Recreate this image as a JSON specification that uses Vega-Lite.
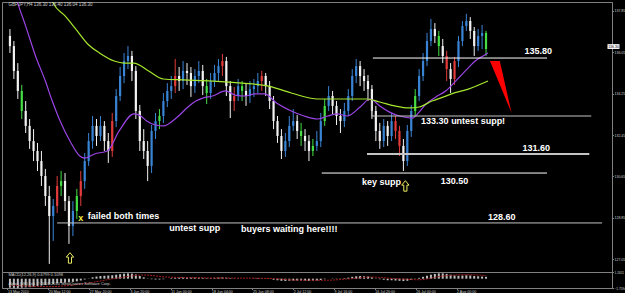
{
"$schema": "https://vega.github.io/schema/vega-lite/v6.json",
"background": "#000000",
"padding": {"left": 1, "top": 1, "right": 0, "bottom": 0},
"spacing": 0,
"bounds": "flush",
"datasets": {
"candles": [
{"i":0,"o":136.76,"h":137.06,"l":136.02,"c":136.32,"k":"dn","m":-1.7},
{"i":1,"o":136.32,"h":136.54,"l":134.89,"c":135.24,"k":"dn","m":-1.75},
{"i":2,"o":135.24,"h":135.58,"l":134.02,"c":134.37,"k":"dn","m":-1.75},
{"i":3,"o":134.37,"h":134.63,"l":133.15,"c":133.50,"k":"g","m":-1.7},
{"i":4,"o":133.50,"h":133.93,"l":132.54,"c":132.85,"k":"dn","m":-1.65},
{"i":5,"o":132.85,"h":133.15,"l":131.85,"c":132.19,"k":"dn","m":-1.6},
{"i":6,"o":132.19,"h":132.71,"l":131.32,"c":131.76,"k":"dn","m":-1.5},
{"i":7,"o":131.76,"h":132.11,"l":130.89,"c":131.32,"k":"dn","m":-1.4},
{"i":8,"o":131.32,"h":131.76,"l":130.24,"c":130.67,"k":"dn","m":-1.3},
{"i":9,"o":130.67,"h":130.98,"l":129.37,"c":129.80,"k":"dn","m":-1.2},
{"i":10,"o":129.80,"h":130.24,"l":126.85,"c":128.93,"k":"dn","m":-1.1},
{"i":11,"o":128.93,"h":129.67,"l":127.85,"c":129.37,"k":"up","m":-1.0},
{"i":12,"o":129.37,"h":130.67,"l":129.06,"c":130.24,"k":"r","m":-0.9},
{"i":13,"o":130.24,"h":130.89,"l":129.80,"c":130.45,"k":"g","m":-0.8},
{"i":14,"o":130.45,"h":130.80,"l":129.15,"c":129.58,"k":"dn","m":-0.75},
{"i":15,"o":129.58,"h":129.80,"l":127.72,"c":128.50,"k":"dn","m":-0.7},
{"i":16,"o":128.50,"h":129.58,"l":128.06,"c":129.15,"k":"up","m":-0.6},
{"i":17,"o":129.15,"h":130.11,"l":128.80,"c":129.80,"k":"g","m":-0.5},
{"i":18,"o":129.80,"h":130.89,"l":129.37,"c":130.45,"k":"r","m":-0.35},
{"i":19,"o":130.45,"h":131.67,"l":130.11,"c":131.32,"k":"up","m":-0.15},
{"i":20,"o":131.32,"h":132.54,"l":131.11,"c":132.19,"k":"up","m":0.05},
{"i":21,"o":132.19,"h":133.28,"l":131.85,"c":132.85,"k":"up","m":0.25},
{"i":22,"o":132.85,"h":133.15,"l":131.98,"c":132.41,"k":"dn","m":0.4},
{"i":23,"o":132.41,"h":133.28,"l":132.19,"c":132.85,"k":"up","m":0.5},
{"i":24,"o":132.85,"h":133.06,"l":131.76,"c":132.19,"k":"dn","m":0.55},
{"i":25,"o":132.19,"h":132.54,"l":131.24,"c":131.76,"k":"dn","m":0.6},
{"i":26,"o":131.76,"h":133.41,"l":131.50,"c":133.06,"k":"r","m":0.65},
{"i":27,"o":133.06,"h":134.45,"l":132.80,"c":134.15,"k":"up","m":0.75},
{"i":28,"o":134.15,"h":135.41,"l":133.93,"c":135.02,"k":"up","m":0.85},
{"i":29,"o":135.02,"h":136.02,"l":134.71,"c":135.67,"k":"up","m":0.95},
{"i":30,"o":135.67,"h":136.32,"l":135.32,"c":135.89,"k":"up","m":1.0},
{"i":31,"o":135.89,"h":136.11,"l":134.80,"c":135.24,"k":"dn","m":0.95},
{"i":32,"o":135.24,"h":135.45,"l":133.15,"c":133.50,"k":"dn","m":0.8},
{"i":33,"o":133.50,"h":133.76,"l":131.76,"c":132.19,"k":"dn","m":0.5},
{"i":34,"o":132.19,"h":132.71,"l":131.41,"c":131.76,"k":"dn","m":0.25},
{"i":35,"o":131.76,"h":132.19,"l":130.45,"c":131.11,"k":"dn","m":0.05},
{"i":36,"o":131.11,"h":132.89,"l":130.80,"c":132.63,"k":"up","m":-0.1},
{"i":37,"o":132.63,"h":133.41,"l":132.28,"c":133.06,"k":"up","m":-0.15},
{"i":38,"o":133.06,"h":133.58,"l":132.71,"c":133.28,"k":"g","m":-0.15},
{"i":39,"o":133.28,"h":134.28,"l":132.98,"c":133.93,"k":"up","m":-0.1},
{"i":40,"o":133.93,"h":134.71,"l":133.67,"c":134.37,"k":"up","m":0.0},
{"i":41,"o":134.37,"h":135.02,"l":134.02,"c":134.58,"k":"up","m":0.1},
{"i":42,"o":134.58,"h":135.76,"l":134.28,"c":135.02,"k":"r","m":0.15},
{"i":43,"o":135.02,"h":135.41,"l":134.37,"c":134.80,"k":"dn","m":0.2},
{"i":44,"o":134.80,"h":135.67,"l":134.45,"c":135.24,"k":"up","m":0.25},
{"i":45,"o":135.24,"h":135.58,"l":134.63,"c":135.15,"k":"dn","m":0.25},
{"i":46,"o":135.15,"h":135.41,"l":134.11,"c":134.58,"k":"dn","m":0.2},
{"i":47,"o":134.58,"h":135.32,"l":134.28,"c":135.02,"k":"up","m":0.2},
{"i":48,"o":135.02,"h":135.67,"l":134.71,"c":135.24,"k":"up","m":0.2},
{"i":49,"o":135.24,"h":135.50,"l":134.19,"c":134.58,"k":"dn","m":0.15},
{"i":50,"o":134.58,"h":134.89,"l":133.80,"c":134.28,"k":"g","m":0.1},
{"i":51,"o":134.28,"h":135.15,"l":134.02,"c":134.80,"k":"up","m":0.1},
{"i":52,"o":134.80,"h":135.50,"l":134.54,"c":135.15,"k":"up","m":0.15},
{"i":53,"o":135.15,"h":135.76,"l":134.80,"c":135.45,"k":"up","m":0.2},
{"i":54,"o":135.45,"h":135.98,"l":135.02,"c":135.67,"k":"r","m":0.25},
{"i":55,"o":135.67,"h":135.85,"l":134.15,"c":134.58,"k":"dn","m":0.2},
{"i":56,"o":134.58,"h":134.80,"l":133.19,"c":133.93,"k":"dn","m":0.1},
{"i":57,"o":133.93,"h":134.54,"l":133.50,"c":134.15,"k":"r","m":0.05},
{"i":58,"o":134.15,"h":134.89,"l":133.93,"c":134.58,"k":"up","m":0.05},
{"i":59,"o":134.58,"h":134.80,"l":133.93,"c":134.37,"k":"g","m":0.0},
{"i":60,"o":134.37,"h":134.71,"l":133.72,"c":134.15,"k":"dn","m":0.0},
{"i":61,"o":134.15,"h":134.80,"l":133.85,"c":134.45,"k":"up","m":0.0},
{"i":62,"o":134.45,"h":134.89,"l":134.11,"c":134.58,"k":"up","m":0.05},
{"i":63,"o":134.58,"h":135.15,"l":134.28,"c":134.80,"k":"up","m":0.1},
{"i":64,"o":134.80,"h":135.24,"l":134.37,"c":135.02,"k":"r","m":0.1},
{"i":65,"o":135.02,"h":135.15,"l":134.15,"c":134.58,"k":"dn","m":0.05},
{"i":66,"o":134.58,"h":134.80,"l":133.58,"c":133.93,"k":"dn","m":-0.05},
{"i":67,"o":133.93,"h":134.15,"l":132.71,"c":133.06,"k":"dn","m":-0.2},
{"i":68,"o":133.06,"h":133.28,"l":132.11,"c":132.41,"k":"dn","m":-0.3},
{"i":69,"o":132.41,"h":132.71,"l":131.41,"c":131.76,"k":"dn","m":-0.4},
{"i":70,"o":131.76,"h":132.54,"l":131.50,"c":132.19,"k":"up","m":-0.45},
{"i":71,"o":132.19,"h":133.28,"l":131.93,"c":132.85,"k":"up","m":-0.4},
{"i":72,"o":132.85,"h":133.58,"l":132.63,"c":133.06,"k":"up","m":-0.35},
{"i":73,"o":133.06,"h":133.32,"l":132.28,"c":132.63,"k":"dn","m":-0.35},
{"i":74,"o":132.63,"h":132.98,"l":131.98,"c":132.41,"k":"g","m":-0.35},
{"i":75,"o":132.41,"h":132.71,"l":131.76,"c":132.19,"k":"dn","m":-0.35},
{"i":76,"o":132.19,"h":132.45,"l":131.32,"c":131.76,"k":"dn","m":-0.4},
{"i":77,"o":131.76,"h":132.28,"l":131.54,"c":131.98,"k":"g","m":-0.4},
{"i":78,"o":131.98,"h":132.63,"l":131.76,"c":132.19,"k":"up","m":-0.35},
{"i":79,"o":132.19,"h":133.41,"l":131.93,"c":133.06,"k":"up","m":-0.25},
{"i":80,"o":133.06,"h":134.02,"l":132.85,"c":133.72,"k":"g","m":-0.1},
{"i":81,"o":133.72,"h":134.58,"l":133.50,"c":134.15,"k":"up","m":0.0},
{"i":82,"o":134.15,"h":134.37,"l":133.32,"c":133.72,"k":"dn","m":0.05},
{"i":83,"o":133.72,"h":133.93,"l":132.89,"c":133.28,"k":"dn","m":0.05},
{"i":84,"o":133.28,"h":133.58,"l":132.54,"c":133.06,"k":"dn","m":0.05},
{"i":85,"o":133.06,"h":133.85,"l":132.80,"c":133.50,"k":"up","m":0.1},
{"i":86,"o":133.50,"h":134.45,"l":133.28,"c":134.15,"k":"up","m":0.2},
{"i":87,"o":134.15,"h":135.32,"l":133.93,"c":135.02,"k":"up","m":0.35},
{"i":88,"o":135.02,"h":135.76,"l":134.71,"c":135.45,"k":"up","m":0.45},
{"i":89,"o":135.45,"h":135.67,"l":134.58,"c":135.02,"k":"dn","m":0.5},
{"i":90,"o":135.02,"h":135.32,"l":134.37,"c":134.80,"k":"dn","m":0.45},
{"i":91,"o":134.80,"h":135.06,"l":133.93,"c":134.45,"k":"dn","m":0.4},
{"i":92,"o":134.45,"h":134.63,"l":133.15,"c":133.50,"k":"dn","m":0.25},
{"i":93,"o":133.50,"h":133.72,"l":132.19,"c":132.63,"k":"dn","m":0.05},
{"i":94,"o":132.63,"h":132.98,"l":131.85,"c":132.19,"k":"dn","m":-0.1},
{"i":95,"o":132.19,"h":133.15,"l":131.93,"c":132.85,"k":"up","m":-0.2},
{"i":96,"o":132.85,"h":133.06,"l":131.98,"c":132.41,"k":"dn","m":-0.3},
{"i":97,"o":132.41,"h":133.41,"l":132.19,"c":133.06,"k":"up","m":-0.3},
{"i":98,"o":133.06,"h":133.28,"l":132.28,"c":132.63,"k":"r","m":-0.35},
{"i":99,"o":132.63,"h":132.85,"l":131.54,"c":131.98,"k":"r","m":-0.4},
{"i":100,"o":131.98,"h":132.28,"l":130.89,"c":131.32,"k":"dn","m":-0.45},
{"i":101,"o":131.32,"h":132.89,"l":131.11,"c":132.63,"k":"up","m":-0.4},
{"i":102,"o":132.63,"h":133.76,"l":132.37,"c":133.50,"k":"up","m":-0.25},
{"i":103,"o":133.50,"h":134.45,"l":133.28,"c":134.15,"k":"g","m":-0.05},
{"i":104,"o":134.15,"h":135.32,"l":133.93,"c":135.02,"k":"up","m":0.15},
{"i":105,"o":135.02,"h":136.02,"l":134.80,"c":135.67,"k":"up","m":0.35},
{"i":106,"o":135.67,"h":136.89,"l":135.45,"c":136.54,"k":"up","m":0.55},
{"i":107,"o":136.54,"h":137.50,"l":136.32,"c":137.06,"k":"up","m":0.75},
{"i":108,"o":137.06,"h":137.32,"l":136.45,"c":136.76,"k":"dn","m":0.9},
{"i":109,"o":136.76,"h":136.98,"l":135.89,"c":136.32,"k":"g","m":1.0},
{"i":110,"o":136.32,"h":136.63,"l":135.58,"c":135.89,"k":"dn","m":1.0},
{"i":111,"o":135.89,"h":136.11,"l":134.80,"c":135.32,"k":"r","m":0.9},
{"i":112,"o":135.32,"h":135.58,"l":134.28,"c":134.89,"k":"dn","m":0.75},
{"i":113,"o":134.89,"h":135.85,"l":134.63,"c":135.67,"k":"r","m":0.6},
{"i":114,"o":135.67,"h":136.76,"l":135.41,"c":136.54,"k":"up","m":0.55},
{"i":115,"o":136.54,"h":137.41,"l":136.32,"c":137.19,"k":"up","m":0.6},
{"i":116,"o":137.19,"h":137.72,"l":136.98,"c":137.41,"k":"up","m":0.65},
{"i":117,"o":137.41,"h":137.58,"l":136.63,"c":136.98,"k":"dn","m":0.6},
{"i":118,"o":136.98,"h":137.15,"l":135.89,"c":136.32,"k":"dn","m":0.5},
{"i":119,"o":136.32,"h":137.06,"l":136.11,"c":136.76,"k":"up","m":0.45},
{"i":120,"o":136.76,"h":137.24,"l":136.19,"c":136.89,"k":"up","m":0.4},
{"i":121,"o":136.89,"h":136.98,"l":135.89,"c":136.19,"k":"g","m":0.35}
],
"pma": [
{"i":1,"p":138.80},{"i":2,"p":138.19},{"i":4,"p":137.19},{"i":6.5,"p":135.89},{"i":9,"p":134.80},{"i":10.75,"p":133.93},{"i":12.75,"p":133.06},{"i":15.25,"p":132.19},{"i":17.75,"p":131.54},{"i":19,"p":131.45},{"i":21.5,"p":131.63},{"i":24.75,"p":131.76},{"i":27.75,"p":132.63},{"i":31.5,"p":133.37},{"i":33.25,"p":133.28},{"i":34.75,"p":133.06},{"i":37,"p":132.89},{"i":39,"p":132.85},{"i":42.25,"p":133.19},{"i":45.25,"p":133.67},{"i":47.25,"p":133.93},{"i":49,"p":134.06},{"i":51.5,"p":134.15},{"i":54.75,"p":134.37},{"i":57.25,"p":134.19},{"i":59.75,"p":134.15},{"i":62.25,"p":134.24},{"i":64.75,"p":134.24},{"i":67.75,"p":133.85},{"i":71.5,"p":133.50},{"i":74.75,"p":133.28},{"i":78.25,"p":133.15},{"i":80.75,"p":133.28},{"i":83.25,"p":133.37},{"i":85.75,"p":133.28},{"i":89,"p":133.67},{"i":91.5,"p":134.02},{"i":94,"p":133.72},{"i":96.5,"p":133.45},{"i":99,"p":133.28},{"i":102.25,"p":133.19},{"i":104,"p":133.45},{"i":105.75,"p":133.80},{"i":108.25,"p":134.11},{"i":110.75,"p":134.37},{"i":114,"p":134.93},{"i":116.5,"p":135.37},{"i":118.25,"p":135.67},{"i":120.25,"p":135.89},{"i":121.5,"p":136.02}
],
"gma": [
{"i":10.25,"p":138.63},{"i":11,"p":138.19},{"i":14,"p":137.63},{"i":16.5,"p":137.11},{"i":19.75,"p":136.41},{"i":22.75,"p":136.02},{"i":26.5,"p":135.67},{"i":29,"p":135.58},{"i":31.5,"p":135.58},{"i":35.25,"p":135.24},{"i":39,"p":134.89},{"i":44,"p":134.85},{"i":51.5,"p":134.80},{"i":59,"p":134.71},{"i":65.75,"p":134.58},{"i":71.5,"p":134.28},{"i":78.25,"p":134.02},{"i":84,"p":134.02},{"i":90.75,"p":134.02},{"i":94,"p":133.89},{"i":97.75,"p":133.72},{"i":101.5,"p":133.63},{"i":104,"p":133.67},{"i":107.25,"p":133.93},{"i":110.25,"p":134.11},{"i":112.25,"p":134.24},{"i":116.5,"p":134.45},{"i":121.5,"p":134.80}
],
"levels": [
{"label":"135.80","x1":92.25,"x2":136.5,"p":135.80,"c":"w"},
{"label":"133.30","x1":92,"x2":147.75,"p":133.28,"c":"g"},
{"label":"131.60","x1":90.75,"x2":147.25,"p":131.63,"c":"g"},
{"label":"130.50","x1":79.25,"x2":136.5,"p":130.80,"c":"w"},
{"label":"128.60","x1":12,"x2":150.5,"p":128.63,"c":"g"}
],
"seg": [{"i":92,"p1":133.93,"p2":133.28}],
"tri": [
{"i":122,"top":135.67,"bot":135.67},
{"i":124.5,"top":135.67,"bot":134.65},
{"i":127.5,"top":133.41,"bot":133.41}
],
"notes": [
{"i":130.75,"p":136.11,"t":"135.80"},
{"i":104.5,"p":133.06,"t":"133.30 untest supp!"},
{"i":130.25,"p":131.89,"t":"131.60"},
{"i":109.5,"p":130.45,"t":"130.50"},
{"i":89.5,"p":130.41,"t":"key supp"},
{"i":121.5,"p":128.89,"t":"128.60"},
{"i":19.75,"p":128.93,"t":"failed both times"},
{"i":40.5,"p":128.41,"t":"untest supp"},
{"i":58.75,"p":128.37,"t":"buyers waiting here!!!!"}
],
"cross": [{"i":18,"p":128.85,"t":"x"}],
"arrows": [{"i":15.25,"p":127.11},{"i":100.5,"p":130.24}],
"head": [{"i":-0.4,"p":138.11,"t":"GBPJPY,H4  136.30 136.40 136.04 136.30"}],
"last": [{"i":153.4,"p":136.30,"t":"136.30"}],
"sig": [
{"i":0,"s":-1.2},{"i":10,"s":-1.5},{"i":20,"s":-0.8},{"i":28,"s":0.2},{"i":34,"s":0.7},{"i":40,"s":0.3},{"i":50,"s":0.15},{"i":60,"s":0.1},{"i":66,"s":0.05},{"i":72,"s":-0.25},{"i":80,"s":-0.3},{"i":86,"s":-0.05},{"i":92,"s":0.3},{"i":98,"s":0.0},{"i":104,"s":-0.2},{"i":110,"s":0.5},{"i":116,"s":0.75},{"i":121,"s":0.6}
],
"subhead": [
{"i":-0.4,"m":0.69,"t":"MACD(12,26,9) 0.6799 0.1098"},
{"i":-0.4,"m":-1.0,"t":"Alpari (UK) Ltd. © 2001-2010 MetaQuotes Software Corp."}
]
},
"vconcat": [
{
"width": 610,
"height": 270,
"layer": [
{"data": {"name": "candles"}, "mark": {"type": "rule", "strokeWidth": 1},
 "encoding": {
  "x": {"field": "i", "type": "quantitative", "scale": {"domain": [-0.75, 151.75], "nice": false, "zero": false}, "axis": null},
  "y": {"field": "l", "type": "quantitative", "scale": {"domain": [126.497, 138.237], "nice": false, "zero": false},
        "axis": {"orient": "right", "title": null, "values": [137.85,137.40,136.95,136.50,136.05,135.60,135.15,134.70,134.25,133.80,133.35,132.90,132.45,132.00,131.55,131.10,130.65,130.20,129.75,129.30,128.85,128.40,127.95,127.50,127.05], "format": ".2f", "labelOverlap": false, "labelFlush": false, "labelBound": false}},
  "y2": {"field": "h"},
  "color": {"field": "k", "type": "nominal", "scale": {"domain": ["up","dn","r","g"], "range": ["#3a84d6","#f2f2f2","#e33b3b","#44dd44"]}, "legend": null}
 }},
{"data": {"name": "candles"}, "mark": {"type": "bar", "size": 2.2},
 "encoding": {
  "x": {"field": "i", "type": "quantitative"},
  "y": {"field": "o", "type": "quantitative"},
  "y2": {"field": "c"},
  "color": {"field": "k", "type": "nominal", "legend": null}
 }},
{"data": {"name": "pma"}, "mark": {"type": "line", "color": "#9b45e6", "strokeWidth": 1.2, "clip": true, "interpolate": "monotone"},
 "encoding": {"x": {"field": "i", "type": "quantitative"}, "y": {"field": "p", "type": "quantitative"}}},
{"data": {"name": "gma"}, "mark": {"type": "line", "color": "#a6e62e", "strokeWidth": 1.2, "clip": true, "interpolate": "monotone"},
 "encoding": {"x": {"field": "i", "type": "quantitative"}, "y": {"field": "p", "type": "quantitative"}}},
{"data": {"name": "levels"}, "mark": {"type": "rule"},
 "encoding": {
  "x": {"field": "x1", "type": "quantitative"}, "x2": {"field": "x2"},
  "y": {"field": "p", "type": "quantitative"},
  "color": {"condition": {"test": "datum.c==='w'", "value": "#ffffff"}, "value": "#c4c4c4"},
  "strokeWidth": {"condition": {"test": "datum.label==='131.60'", "value": 2}, "value": 1}
 }},
{"data": {"name": "seg"}, "mark": {"type": "rule", "color": "#c4c4c4"},
 "encoding": {"x": {"field": "i", "type": "quantitative"}, "y": {"field": "p1", "type": "quantitative"}, "y2": {"field": "p2"}}},
{"data": {"name": "tri"}, "mark": {"type": "area", "color": "#ff0000", "opacity": 1},
 "encoding": {"x": {"field": "i", "type": "quantitative"}, "y": {"field": "top", "type": "quantitative"}, "y2": {"field": "bot"}}},
{"data": {"name": "notes"}, "mark": {"type": "text", "align": "left", "baseline": "middle", "font": "Liberation Sans", "fontWeight": "bold", "fontSize": 9, "color": "#ffffff"},
 "encoding": {"x": {"field": "i", "type": "quantitative"}, "y": {"field": "p", "type": "quantitative"}, "text": {"field": "t"}}},
{"data": {"name": "cross"}, "mark": {"type": "text", "align": "center", "baseline": "middle", "font": "Liberation Sans", "fontWeight": "bold", "fontSize": 9, "color": "#f0f040"},
 "encoding": {"x": {"field": "i", "type": "quantitative"}, "y": {"field": "p", "type": "quantitative"}, "text": {"field": "t"}}},
{"data": {"name": "arrows"}, "mark": {"type": "point", "shape": "M0,-1L0.7,-0.15L0.3,-0.15L0.3,1L-0.3,1L-0.3,-0.15L-0.7,-0.15Z", "size": 110, "filled": false, "stroke": "#eeee66", "strokeWidth": 1, "opacity": 1},
 "encoding": {"x": {"field": "i", "type": "quantitative"}, "y": {"field": "p", "type": "quantitative"}}},
{"data": {"name": "head"}, "mark": {"type": "text", "align": "left", "baseline": "middle", "font": "Liberation Sans", "fontSize": 4.5, "color": "#d0d0d0"},
 "encoding": {"x": {"field": "i", "type": "quantitative"}, "y": {"field": "p", "type": "quantitative"}, "text": {"field": "t"}}},
{"data": {"name": "last"}, "mark": {"type": "point", "shape": "M-1,-0.4L1,-0.4L1,0.4L-1,0.4Z", "size": 144, "filled": true, "color": "#ffffff", "opacity": 1},
 "encoding": {"x": {"field": "i", "type": "quantitative"}, "y": {"field": "p", "type": "quantitative"}}},
{"data": {"name": "last"}, "mark": {"type": "text", "align": "center", "baseline": "middle", "font": "Liberation Sans", "fontSize": 3.5, "color": "#000000"},
 "encoding": {"x": {"field": "i", "type": "quantitative"}, "y": {"field": "p", "type": "quantitative"}, "text": {"field": "t"}}}
]
},
{
"width": 610,
"height": 16,
"layer": [
{"data": {"name": "candles"}, "mark": {"type": "bar", "size": 2, "color": "#bdbdbd"},
 "encoding": {
  "x": {"field": "i", "type": "quantitative", "scale": {"domain": [-0.75, 151.75], "nice": false, "zero": false},
        "axis": {"orient": "bottom", "title": null, "values": [-0.625,4.5625,9.75,14.9375,20.125,25.3125,30.5,35.6875,40.875,46.0625,51.25,56.4375,61.625,66.8125,72,77.1875,82.375,87.5625,92.75,97.9375,103.125,108.3125,113.5,118.6875],
                 "labelExpr": "['13 May 2010','17 May 20:00','20 May 12:00','25 May 04:00','27 May 20:00','1 Jun 04:00','3 Jun 20:00','8 Jun 08:00','11 Jun 00:00','15 Jun 12:00','18 Jun 04:00','22 Jun 16:00','25 Jun 08:00','29 Jun 20:00','2 Jul 12:00','7 Jul 00:00','9 Jul 16:00','14 Jul 04:00','16 Jul 20:00','21 Jul 08:00','26 Jul 00:00','28 Jul 12:00','2 Aug 00:00','4 Aug 20:00'][round((datum.value+0.625)/5.1875)]",
                 "labelAlign": "left", "labelFontSize": 3.6, "labelOverlap": false, "labelFlush": false, "labelBound": false, "labelPadding": 0}},
  "y": {"field": "m", "type": "quantitative", "scale": {"domain": [-1.7594, 1.2611], "nice": false, "zero": false},
        "axis": {"orient": "right", "title": null, "values": [1.2611, 0, -1.7594], "labelExpr": "datum.value===0 ? '0.00' : format(datum.value, '.4f')", "labelFontSize": 3.2, "labelOverlap": false, "labelFlush": false, "labelBound": false}},
  "y2": {"datum": 0}
 }},
{"data": {"name": "sig"}, "mark": {"type": "line", "color": "#a01c1c", "strokeWidth": 1, "strokeDash": [2, 1], "interpolate": "monotone", "clip": true},
 "encoding": {"x": {"field": "i", "type": "quantitative"}, "y": {"field": "s", "type": "quantitative"}}},
{"data": {"name": "subhead"}, "mark": {"type": "text", "align": "left", "baseline": "middle", "font": "Liberation Sans", "fontSize": 4, "color": "#d0d0d0"},
 "encoding": {"x": {"field": "i", "type": "quantitative"}, "y": {"field": "m", "type": "quantitative"}, "text": {"field": "t"}}}
]
}
],
"config": {
 "view": {"stroke": "#808080", "strokeWidth": 1},
 "axis": {"domainColor": "#808080", "tickColor": "#808080", "tickSize": 1.5, "labelColor": "#cfcfcf", "labelFont": "Liberation Sans", "labelFontSize": 3.5, "labelPadding": 0.5, "grid": false}
}
}
